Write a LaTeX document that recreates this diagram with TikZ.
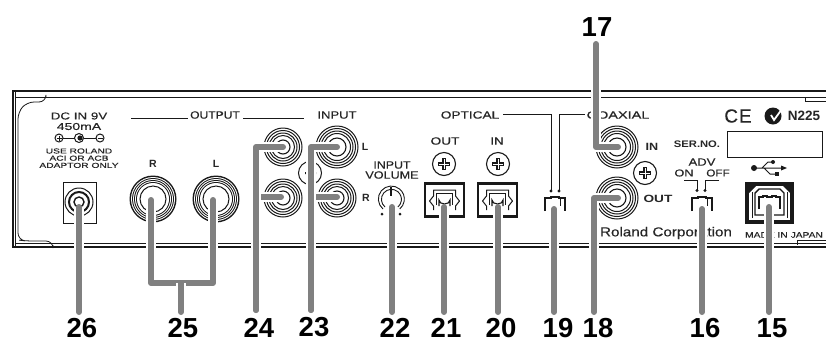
\documentclass[tikz,border=0pt]{standalone}
\usepackage{fontspec}
\setmainfont{Liberation Sans}[FakeBold=0.25]
\newfontfamily\numfont{Liberation Sans Bold}
\newcommand{\wdt}[2]{\scalebox{#1}[1]{#2}}
\newcommand{\rcajack}[3]{%
  \draw[ink,line width=1] (#1,#2) circle[radius=#3];
  \draw[ink,line width=1] (#1,#2) circle[radius=#3-2.5];
  \draw[ink,line width=1] (#1,#2) circle[radius=#3-5];
  \draw[ink,line width=1] (#1,#2) circle[radius=#3-7.5];
  \draw[ink,line width=1.1] (#1,#2) circle[radius=#3-12];}
\newcommand{\bigjack}[2]{%
  \fill[ink] (#1,#2) circle[radius=23.5];
  \foreach \rr/\cc in {22/white,21/black!90,20/white,19/black!90,18/white,17/black!90,16/white}{\fill[color=\cc] (#1,#2) circle[radius=\rr];}
  \draw[ink,line width=1] (#1,#2) circle[radius=13];}
\newcommand{\screw}[2]{%
  \draw[ink,line width=1.1] (#1,#2) circle[radius=11.5];
  \draw[ink,line width=3.2] (#1-6,#2) -- (#1+6,#2) (#1,#2-6) -- (#1,#2+6);
  \draw[white,line width=.6] (#1-5,#2) -- (#1+5,#2) (#1,#2-5) -- (#1,#2+5);}
\newcommand{\optport}[2]{%
  \draw[ink,line width=2.4] (#1-19.5,#2-16.5) rectangle (#1+19.5,#2+16.5);
  \draw[ink,line width=1,line join=round] (#1-11,#2+10) -- (#1-11,#2+6) -- (#1-15,#2+1) -- (#1-11,#2-4) -- (#1-11,#2-10) -- (#1+11,#2-10) -- (#1+11,#2-4) -- (#1+15,#2+1) -- (#1+11,#2+6) -- (#1+11,#2+10);
  \draw[ink,line width=.9] (#1-8,#2+5) -- (#1-8,#2-7) -- (#1+8,#2-7) -- (#1+8,#2+5);
  \draw[ink,line width=1.1] (#1-5.5,#2+6) -- (#1-5.5,#2) arc[start angle=180,end angle=360,x radius=5.5,y radius=-4] -- (#1+5.5,#2+6);}
\newcommand{\swbody}[2]{%
  \draw[ink,line width=1.8] (#1-10,#2+7) -- (#1-10,#2-6) -- (#1-4,#2-6) -- (#1-4,#2-7) -- (#1+4,#2-7) -- (#1+4,#2-6) -- (#1+10,#2-6) -- (#1+10,#2+7);
  \draw[ink,line width=1] (#1+5,#2-6) -- (#1+5,#2+2);}
\tikzset{
  x=1pt,y=-1pt,
  ink/.style={color=black!90},
  panelthick/.style={ink,line width=2},
  panelthin/.style={ink,line width=.8},
  thinline/.style={ink,line width=.8},
  lbl/.style={inner sep=0,outer sep=0,align=center,text=black!85},
  captxt/.style={lbl,font=\fontsize{10.5}{11}\selectfont},
  smalltxt/.style={lbl,font=\fontsize{7.2}{7.5}\selectfont},
  boldtxt/.style={lbl,font=\numfont\fontsize{10.5}{11}\selectfont},
  num/.style={inner sep=0,outer sep=0,text=black,font=\numfont\fontsize{27.5}{28}\selectfont},
  conn/.style={preaction={draw=white,line width=10.5,line cap=butt},draw=black!50,line width=6,line cap=round,line join=round},
}
\begin{document}
\begin{tikzpicture}
\path[use as bounding box,fill=white] (0,0) rectangle (826,341);
% panel
\draw[panelthick] (826,91) -- (13,91) -- (13,247) -- (826,247);
\draw[panelthin] (15,97) -- (826,97) (15,243) -- (826,243);
\draw[panelthin] (15,91) -- (15,247);
\draw[thinline,rounded corners=7] (46,97) -- (46,102) -- (27,102) -- (18,112) -- (18,240) -- (26,241) -- (53,241) -- (53,245);
\draw[thinline] (826,101) -- (805,101) -- (805,97);
\draw[thinline] (826,240) -- (797,240) -- (797,245);
% left text
\node[captxt,font=\fontsize{10}{10}\selectfont] (dc) at (79,116) {\wdt{1.34}{DC IN 9V}};
\node[captxt,font=\fontsize{10}{10}\selectfont] (ma) at (79,126.5) {\wdt{1.4}{450mA}};
\draw[thinline,line width=1] (59,138) circle[radius=4] (79,138) circle[radius=4.5] (100,138) circle[radius=4];
\draw[thinline,line width=1] (63,138) -- (74.5,138) (83.5,138) -- (96,138) (56.5,138) -- (61.5,138) (59,135.5) -- (59,140.5) (97.5,138) -- (102.5,138);
\fill[ink] (80,138) circle[radius=2.6];
\node[smalltxt] (t1) at (79,151) {\wdt{1.42}{USE ROLAND}};
\node[smalltxt] (t2) at (79,158.2) {\wdt{1.42}{ACI OR ACB}};
\node[smalltxt] (t3) at (79,165.4) {\wdt{1.42}{ADAPTOR ONLY}};
\draw[thinline] (63,182) rectangle (96,223);
\draw[ink,line width=1] (79,202) circle[radius=14];
\draw[ink,line width=2] (79,202) circle[radius=10];
\draw[ink,line width=1.4] (79,202) circle[radius=5];
% output
\node[captxt] (output) at (215,115) {\wdt{1.15}{OUTPUT}};
\draw[thinline] (131,118.5) -- (188,118.5) (243,118.5) -- (304,118.5);
\node[boldtxt] (or) at (153,164) {R};
\node[boldtxt] (ol) at (216,164) {L};
\bigjack{153}{199}
\bigjack{216}{199}
% input
\node[captxt] (input) at (337,115) {\wdt{1.24}{INPUT}};
\rcajack{283}{147}{19}
\rcajack{283}{198}{19}
\rcajack{337}{147}{21}
\rcajack{337}{198}{19}
\draw[thinline,line width=1] (310,173) circle[radius=11.5];
\fill[ink] (305,172) rectangle (307,174) (314,172) rectangle (316,174);
\node[boldtxt] (il) at (365,147) {L};
\node[boldtxt] (ir) at (366,198) {R};
\node[captxt] (iv1) at (392,165) {\wdt{1.18}{INPUT}};
\node[captxt] (iv2) at (392,175) {\wdt{1.2}{VOLUME}};
\draw[ink,line width=.9] (383,209) arc[start angle=130,end angle=410,radius=13];
\draw[ink,line width=.9] (385,207) arc[start angle=130,end angle=410,radius=10];
\draw[ink,line width=1.6] (391,187) -- (391,196);
\fill[ink] (382,214) circle[radius=1.5] (400,214) circle[radius=1.5];
% optical
\node[captxt] (opt) at (470,115) {\wdt{1.3}{OPTICAL}};
\draw[thinline] (503,114.5) -- (551,114.5) -- (551,190);
\draw[thinline] (585,114.5) -- (559,114.5) -- (559,190);
\fill[ink] (551,191) circle[radius=1.6] (559,191) circle[radius=1.6];
\node[captxt] (oo) at (445,141) {\wdt{1.3}{OUT}};
\node[captxt] (oi) at (497,141) {\wdt{1.25}{IN}};
\screw{444}{164}
\screw{498}{164}
\optport{444.5}{200}
\optport{497.5}{200}
\swbody{555}{204}
% coaxial
\node[captxt] (coax) at (618,115) {\wdt{1.38}{COAXIAL}};
\rcajack{617}{147}{21}
\rcajack{617}{198}{21}
\screw{645}{173}
\node[boldtxt] (ci) at (652,147) {\wdt{1.2}{IN}};
\node[boldtxt] (co) at (658,199) {\wdt{1.3}{OUT}};
\node[lbl,font=\fontsize{13}{13}\selectfont] (roland) at (666,233) {\wdt{1.17}{Roland Corporation}};
% right
\node[lbl,font=\fontsize{19}{19}\selectfont] (ce) at (738,116) {C\kern1pt E};
\fill[ink] (773,116) circle[radius=8.5];
\draw[white,line width=1.8] (771,115) -- (774,120) -- (782,109);
\node[lbl,font=\numfont\fontsize{13.5}{14}\selectfont] (n225) at (804,116) {N225};
\node[lbl,font=\numfont\fontsize{9.5}{10}\selectfont] (ser) at (697,144.5) {\wdt{1.18}{SER.NO.}};
\draw[ink,line width=.9] (727,131) rectangle (822,157);
\node[captxt] (adv) at (702,162) {\wdt{1.24}{ADV}};
\node[captxt,font=\fontsize{10}{10}\selectfont] (on) at (684,173) {\wdt{1.27}{ON}};
\node[captxt,font=\fontsize{10}{10}\selectfont] (off) at (718,173) {\wdt{1.17}{OFF}};
\draw[thinline] (684,180) -- (697,180) -- (697,190) (719,180) -- (705,180) -- (705,190);
\fill[ink] (697,190.5) circle[radius=1.6] (705,190.5) circle[radius=1.6];
\swbody{702}{204}
% USB symbol
\fill[ink] (754,168) circle[radius=3];
\draw[ink,line width=1] (754,168) -- (782,168) (762,168) -- (768,162) -- (773,162) (764,168) -- (770,174) -- (775,174);
\fill[ink] (787,168) -- (781,165.5) -- (781,170.5) -- cycle;
\fill[ink] (773,162) circle[radius=2];
\fill[ink] (775,172) rectangle (779,176);
% USB port
\fill[ink] (745,182) rectangle (794,224);
\fill[white] (749,186) rectangle (790,220);
\fill[ink] (749,186) -- (756,186) -- (749,193) -- cycle (790,186) -- (783,186) -- (790,193) -- cycle;
\draw[ink,line width=1.4] (755,215) -- (755,193) -- (759,189) -- (780,189) -- (784,193) -- (784,215) -- cycle;
\draw[ink,line width=.8] (752,218) -- (752,192) (787,218) -- (787,192);
\draw[ink,line width=2.6] (759,209) -- (759,197) -- (763,197) -- (763,196) -- (767,196) -- (767,197) -- (772,197) -- (772,196) -- (776,196) -- (776,197) -- (780,197) -- (780,209);
\node[lbl,font=\fontsize{8}{8}\selectfont] (jp) at (784,235) {\wdt{1.28}{MADE IN JAPAN}};
% numbers
\node[num] (n26) at (82,328) {26};
\node[num] (n25) at (183,328) {25};
\node[num] (n24) at (259,327.5) {24};
\node[num] (n23) at (314,327.5) {23};
\node[num] (n22) at (395,328) {22};
\node[num] (n21) at (446,328) {21};
\node[num] (n20) at (501,328) {20};
\node[num] (n19) at (558,328) {19};
\node[num] (n18) at (598,328) {18};
\node[num] (n16) at (705,328) {16};
\node[num] (n15) at (772,328) {15};
\node[num] (n17) at (597,27) {17};
% connector anchors
\coordinate (a26) at (79,207);
\coordinate (e26) at (79,312);
\coordinate (a25r) at (151,200);
\coordinate (a25l) at (213,200);
\coordinate (j25) at (181,283);
\coordinate (e25) at (181,312);
\coordinate (a24u) at (283,147);
\coordinate (a24l) at (281,197);
\coordinate (e24) at (256,310);
\coordinate (a23u) at (337,147);
\coordinate (a23l) at (337,197);
\coordinate (e23) at (311,310);
\coordinate (a22) at (392,207);
\coordinate (e22) at (392,312);
\coordinate (a21) at (444,207);
\coordinate (e21) at (444,312);
\coordinate (a20) at (498,207);
\coordinate (e20) at (498,312);
\coordinate (a19) at (554,209);
\coordinate (e19) at (554,312);
\coordinate (a18) at (618,198);
\coordinate (e18) at (594,312);
\coordinate (a17) at (618,147);
\coordinate (e17) at (596,44);
\coordinate (a16) at (702,209);
\coordinate (e16) at (702,312);
\coordinate (a15) at (769,207);
\coordinate (e15) at (769,312);
% connectors
\draw[conn] (a26) -- (e26);
\draw[conn] (a25r) |- (j25) -| (a25l);
\draw[conn] (j25) -- (e25);
\draw[conn] (a24l) -| (e24);
\draw[conn] (a24u) -| (e24);
\draw[conn] (a23l) -| (e23);
\draw[conn] (a23u) -| (e23);
\draw[conn] (a22) -- (e22);
\draw[conn] (a21) -- (e21);
\draw[conn] (a20) -- (e20);
\draw[conn] (a19) -- (e19);
\draw[conn] (a18) -| (e18);
\draw[conn] (a17) -| (e17);
\draw[conn] (a16) -- (e16);
\draw[conn] (a15) -- (e15);
\end{tikzpicture}
\end{document}
